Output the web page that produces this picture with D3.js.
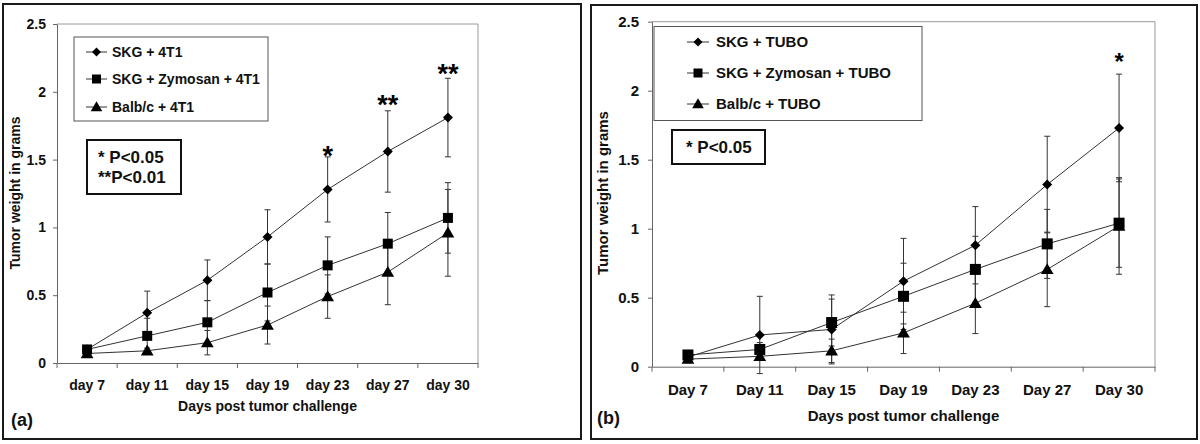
<!DOCTYPE html>
<html><head><meta charset="utf-8">
<script src="https://cdn.jsdelivr.net/npm/d3@7"></script>
<style>
html,body{margin:0;padding:0;background:#fff;}
svg{display:block;font-family:"Liberation Sans",Arial,sans-serif;font-weight:bold;}
</style></head>
<body>
<svg id="c" width="1200" height="444"></svg>
<script>
// ---------- data ----------
const daysA = ["day 7","day 11","day 15","day 19","day 23","day 27","day 30"];
const daysB = ["Day 7","Day 11","Day 15","Day 19","Day 23","Day 27","Day 30"];
const yTicks = [0, 0.5, 1, 1.5, 2, 2.5];
const yTickLabels = ["0","0.5","1","1.5","2","2.5"];

const namesA = ["SKG + 4T1","SKG + Zymosan + 4T1","Balb/c + 4T1"];
const skgA   = [0.10, 0.37, 0.61, 0.93, 1.28, 1.56, 1.81];
const skgAErr= [0.02, 0.16, 0.15, 0.20, 0.24, 0.30, 0.29];
const zymA   = [0.10, 0.20, 0.30, 0.52, 0.72, 0.88, 1.07];
const zymAErr= [0.02, 0.13, 0.16, 0.21, 0.21, 0.23, 0.26];
const balbA  = [0.07, 0.09, 0.15, 0.28, 0.49, 0.67, 0.96];
const balbAErr=[0.01, 0.02, 0.09, 0.14, 0.16, 0.24, 0.32];
const sigA = [{i:4, label:"*", v:1.57},{i:5, label:"**", v:1.95},{i:6, label:"**", v:2.18}];
const pTextA = ["* P<0.05","**P<0.01"];

const namesB = ["SKG + TUBO","SKG + Zymosan + TUBO","Balb/c + TUBO"];
const skgB   = [0.07, 0.23, 0.27, 0.62, 0.88, 1.32, 1.73];
const skgBErr= [0.02, 0.28, 0.25, 0.31, 0.28, 0.35, 0.39];
const zymB   = [0.085,0.125,0.32, 0.51, 0.705,0.89, 1.04];
const zymBErr= [0.02, 0.05, 0.17, 0.24, 0.24, 0.25, 0.32];
const balbB  = [0.055,0.075,0.115,0.245,0.46, 0.705,1.02];
const balbBErr=[0.01, 0.03, 0.085,0.15, 0.22, 0.27, 0.35];
const sigB = [{i:6, label:"*", v:2.25}];
const pTextB = ["* P<0.05"];

const markers = ["diamond","square","triangle"];
const yTitle = "Tumor weight in grams";
const xTitle = "Days post tumor challenge";

// ---------- drawing ----------
const svg = d3.select("#c");

function markerPath(type, size){
  const s = size;
  if(type==="diamond") return `M0,${-s/2}L${s/2},0L0,${s/2}L${-s/2},0Z`;
  if(type==="square") return `M${-s/2},${-s/2}h${s}v${s}h${-s}Z`;
  const h = s*0.95;
  return `M0,${-h*0.6}L${s*0.58},${h*0.45}L${-s*0.58},${h*0.45}Z`;
}

function drawPanel(cfg){
  const g = svg.append("g");
  g.append("rect").attr("x",cfg.frame[0]).attr("y",cfg.frame[1])
    .attr("width",cfg.frame[2]).attr("height",cfg.frame[3])
    .attr("fill","none").attr("stroke","#1a1a1a").attr("stroke-width",2);

  const x = d3.scaleBand().domain(cfg.days).range([cfg.x0,cfg.x1]);
  const y = d3.scaleLinear().domain([0,2.5]).range([cfg.yb,cfg.yt]);

  g.append("path").attr("d",`M${cfg.x0},${cfg.yt}H${cfg.x1}V${cfg.yb}`)
    .attr("fill","none").attr("stroke","#9a9a9a").attr("stroke-width",1);

  const ya = g.append("g").attr("transform",`translate(${cfg.x0},0)`)
    .call(d3.axisLeft(y).tickValues(yTicks).tickFormat((d,i)=>yTickLabels[i]).tickSize(4).tickSizeOuter(0).tickPadding(cfg.yPad));
  ya.select(".domain").attr("stroke","#666");
  ya.selectAll(".tick line").attr("stroke","#666");
  ya.selectAll("text").attr("font-size",cfg.yTickFs).attr("fill","#111")
    .attr("font-family","Liberation Sans, Arial").attr("font-weight","bold");

  const xa = g.append("g").attr("transform",`translate(0,${cfg.yb})`)
    .call(d3.axisBottom(x).tickSize(0).tickPadding(cfg.xPad));
  xa.select(".domain").attr("stroke","#666");
  xa.selectAll("text").attr("font-size",cfg.tickFs).attr("fill","#111")
    .attr("font-family","Liberation Sans, Arial").attr("font-weight","bold");
  const bounds = cfg.days.map(d=>x(d)).concat([x(cfg.days[cfg.days.length-1])+x.bandwidth()]);
  g.selectAll(".bt").data(bounds).enter().append("line")
    .attr("x1",d=>d).attr("x2",d=>d).attr("y1",cfg.yb).attr("y2",cfg.yb+5)
    .attr("stroke","#666");

  const cx = d=>x(d)+x.bandwidth()/2;

  cfg.series.forEach((s,k)=>{
    const pts = s.vals.map((v,i)=>({x:cx(cfg.days[i]), v, e:s.err[i]}));
    g.append("path").datum(pts)
      .attr("d", d3.line().x(d=>d.x).y(d=>y(d.v)))
      .attr("fill","none").attr("stroke","#333").attr("stroke-width",1);
    const eb = g.append("g");
    pts.forEach(p=>{
      eb.append("line").attr("x1",p.x).attr("x2",p.x).attr("y1",y(p.v-p.e)).attr("y2",y(p.v+p.e))
        .attr("stroke","#333").attr("stroke-width",1);
      [p.v-p.e,p.v+p.e].forEach(t=>{
        eb.append("line").attr("x1",p.x-3).attr("x2",p.x+3).attr("y1",y(t)).attr("y2",y(t))
          .attr("stroke","#333").attr("stroke-width",1);
      });
    });
  });
  cfg.series.forEach((s,k)=>{
    g.selectAll(".m"+k).data(s.vals).enter().append("path")
      .attr("transform",(v,i)=>`translate(${cx(cfg.days[i])},${y(v)})`)
      .attr("d",markerPath(markers[k], cfg.mSize[k]))
      .attr("fill","#000");
  });

  cfg.sig.forEach(s=>{
    g.append("text").attr("x",cx(cfg.days[s.i])).attr("y",y(s.v)+cfg.sigFs*0.57)
      .attr("text-anchor","middle").attr("font-size",cfg.sigFs).attr("fill","#000").text(s.label);
  });

  const L = cfg.legend;
  g.append("rect").attr("x",L.x).attr("y",L.y).attr("width",L.w).attr("height",L.h)
    .attr("fill","#fff").attr("stroke","#555").attr("stroke-width",1);
  cfg.names.forEach((n,k)=>{
    const yy = L.rows[k];
    g.append("line").attr("x1",L.lx0).attr("x2",L.lx1).attr("y1",yy).attr("y2",yy)
      .attr("stroke","#333").attr("stroke-width",1);
    g.append("path").attr("transform",`translate(${(L.lx0+L.lx1)/2},${yy})`)
      .attr("d",markerPath(markers[k], cfg.lmSize[k])).attr("fill","#000");
    g.append("text").attr("x",L.tx).attr("y",yy).attr("dy","0.36em")
      .attr("font-size",L.fs).attr("fill","#111").text(n);
  });

  const P = cfg.pbox;
  g.append("rect").attr("x",P.x).attr("y",P.y).attr("width",P.w).attr("height",P.h)
    .attr("fill","#fff").attr("stroke","#111").attr("stroke-width",2);
  cfg.ptext.forEach((t,i)=>{
    g.append("text").attr("x",P.tx).attr("y",P.rows[i]).attr("font-size",P.fs)
      .attr("fill","#111").text(t);
  });

  g.append("text").attr("transform",`translate(${cfg.yTitle[0]},${cfg.yTitle[1]}) rotate(-90)`)
    .attr("text-anchor","middle").attr("dy","0.36em").attr("font-size",cfg.titleFs).attr("fill","#111").text(yTitle);
  g.append("text").attr("x",(cfg.x0+cfg.x1)/2).attr("y",cfg.xTitleY)
    .attr("text-anchor","middle").attr("font-size",cfg.titleFs).attr("fill","#111").text(xTitle);
  g.append("text").attr("x",cfg.tag[0]).attr("y",cfg.tag[1]).attr("font-size",18)
    .attr("fill","#111").text(cfg.tagText);
}

drawPanel({
  frame:[3,4,578,435], days:daysA, x0:57, x1:478, yt:24, yb:363,
  tickFs:14, yTickFs:14, xPad:17, yPad:7, titleFs:14, sigFs:27,
  series:[{vals:skgA,err:skgAErr},{vals:zymA,err:zymAErr},{vals:balbA,err:balbAErr}],
  names:namesA, mSize:[10,10,11], lmSize:[9,9,10], sig:sigA, ptext:pTextA,
  legend:{x:74,y:37,w:194,h:84,rows:[52,79,107],lx0:86,lx1:107,tx:112,fs:14},
  pbox:{x:87,y:140,w:94,h:54,rows:[163,183],tx:98,fs:17},
  yTitle:[15,193], xTitleY:411, tag:[11,426], tagText:"(a)"
});
drawPanel({
  frame:[591,5,606,434], days:daysB, x0:652, x1:1155, yt:21.7, yb:366.7,
  tickFs:15, yTickFs:15, xPad:18, yPad:9, titleFs:15, sigFs:24,
  series:[{vals:skgB,err:skgBErr},{vals:zymB,err:zymBErr},{vals:balbB,err:balbBErr}],
  names:namesB, mSize:[10,11,11], lmSize:[9,9,10], sig:sigB, ptext:pTextB,
  legend:{x:654,y:26.5,w:268,h:94,rows:[42,73,104],lx0:687,lx1:709,tx:716,fs:15},
  pbox:{x:672,y:130,w:93,h:34,rows:[153],tx:686,fs:17},
  yTitle:[603,193], xTitleY:421, tag:[597,424], tagText:"(b)"
});
</script>
</body></html>
